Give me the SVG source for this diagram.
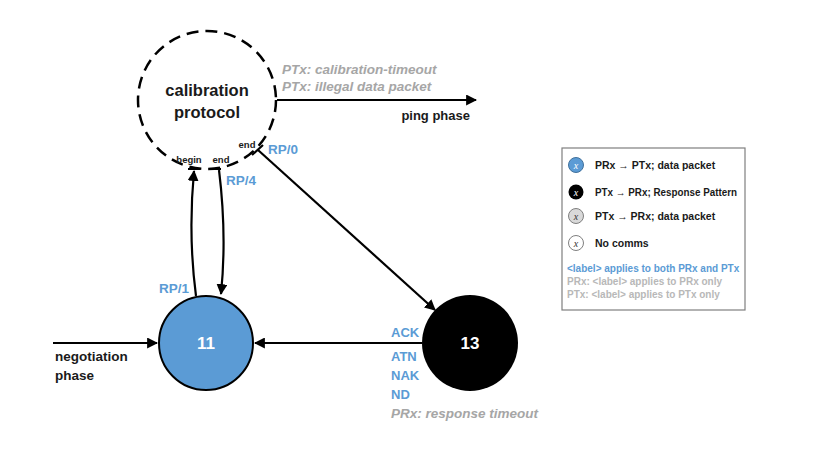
<svg xmlns="http://www.w3.org/2000/svg" width="815" height="455" viewBox="0 0 815 455">
<style>
text{font-family:"Liberation Sans",Arial,sans-serif;font-weight:bold}
.blk{fill:#1a1a1a}
.blue{fill:#5b9bd5}
.gray{fill:#a6a6a6}
.it{font-style:italic}
.edge{fill:none;stroke:#000;stroke-width:2.2}
.ico{font-size:10px;font-style:italic;font-weight:normal;font-family:"Liberation Serif",serif}
.leg{font-size:10.5px}
</style>
<defs>
<marker id="ah" viewBox="0 0 10 10" refX="9" refY="5" markerWidth="5" markerHeight="5" orient="auto" markerUnits="strokeWidth">
<path d="M0,0 L10,5 L0,10 z" fill="#000"/>
</marker>
</defs>
<rect width="815" height="455" fill="#fff"/>

<g id="calibration">
<circle cx="207" cy="100" r="69" fill="none" stroke="#000" stroke-width="2.5" stroke-dasharray="12,7"/>
<text x="207" y="96" text-anchor="middle" font-size="16.5" class="blk">calibration</text>
<text x="207" y="118" text-anchor="middle" font-size="16.5" class="blk">protocol</text>
<text x="189" y="163" text-anchor="middle" font-size="9.5" class="blk">begin</text>
<text x="221" y="163" text-anchor="middle" font-size="9.5" class="blk">end</text>
<text x="247" y="148" text-anchor="middle" font-size="9.5" class="blk">end</text>
</g>

<g id="n11">
<circle cx="206" cy="343" r="47" fill="#5b9bd5" stroke="#000" stroke-width="2"/>
<text x="206" y="349" text-anchor="middle" font-size="17" fill="#fff">11</text>
</g>

<g id="n13">
<circle cx="470" cy="343" r="48" fill="#000"/>
<text x="470" y="349" text-anchor="middle" font-size="17" fill="#fff">13</text>
</g>

<g id="connectors">
<path class="edge" d="M53,343 L157,343" marker-end="url(#ah)"/>
<path class="edge" d="M422,343 L255,343" marker-end="url(#ah)"/>
<path class="edge" d="M277,100 L476,100" marker-end="url(#ah)"/>
<path class="edge" d="M196,296 Q188,235 194,171" marker-end="url(#ah)"/>
<path class="edge" d="M219,170 Q227,235 221,294" marker-end="url(#ah)"/>
<path class="edge" d="M258,150 L435,310" marker-end="url(#ah)"/>
<path d="M188,169 L200,169 M209,169 L221,169 M252,155 L263,145" stroke="#000" stroke-width="2.2"/>
</g>

<g id="labels">
<text x="282" y="74" font-size="13.5" class="gray it">PTx: calibration-timeout</text>
<text x="282" y="91" font-size="13.5" class="gray it">PTx: illegal data packet</text>
<text x="470" y="120" text-anchor="end" font-size="13" class="blk">ping phase</text>
<text x="268" y="154" font-size="13.5" class="blue">RP/0</text>
<text x="226" y="185" font-size="13.5" class="blue">RP/4</text>
<text x="159" y="293" font-size="13.5" class="blue">RP/1</text>
<text x="55" y="361" font-size="13.5" class="blk">negotiation</text>
<text x="55" y="380" font-size="13.5" class="blk">phase</text>
<text x="391" y="337" font-size="13" class="blue">ACK</text>
<text x="391" y="361" font-size="13" class="blue">ATN</text>
<text x="391" y="380" font-size="13" class="blue">NAK</text>
<text x="391" y="399" font-size="13" class="blue">ND</text>
<text x="391" y="418" font-size="13.5" class="gray it">PRx: response timeout</text>
</g>

<g id="legend">
<rect x="562" y="148" width="183" height="162" fill="#fff" stroke="#7f7f7f" stroke-width="1.2"/>
<circle cx="576" cy="165" r="7.5" fill="#5b9bd5" stroke="#41719c" stroke-width="1"/>
<text x="576" y="168.5" text-anchor="middle" class="ico" fill="#fff">x</text>
<text x="595" y="169" class="leg blk">PRx → PTx; data packet</text>
<circle cx="576" cy="192" r="7.5" fill="#000"/>
<text x="576" y="195.5" text-anchor="middle" class="ico" fill="#fff">x</text>
<text x="595" y="196" class="leg blk" textLength="142" lengthAdjust="spacingAndGlyphs">PTx → PRx; Response Pattern</text>
<circle cx="576" cy="216" r="7.5" fill="#d9d9d9" stroke="#7f7f7f" stroke-width="1"/>
<text x="576" y="219.5" text-anchor="middle" class="ico" fill="#333">x</text>
<text x="595" y="220" class="leg blk">PTx → PRx; data packet</text>
<circle cx="576" cy="243" r="7.5" fill="#fff" stroke="#7f7f7f" stroke-width="1"/>
<text x="576" y="246.5" text-anchor="middle" class="ico" fill="#333">x</text>
<text x="595" y="247" class="leg blk">No comms</text>
<text x="567" y="272" font-size="10" class="blue">&lt;label&gt; applies to both PRx and PTx</text>
<text x="567" y="285" font-size="10" fill="#b8b8b8" font-weight="normal">PRx: &lt;label&gt; applies to PRx only</text>
<text x="567" y="298" font-size="10" fill="#b8b8b8" font-weight="normal">PTx: &lt;label&gt; applies to PTx only</text>
</g>
</svg>
